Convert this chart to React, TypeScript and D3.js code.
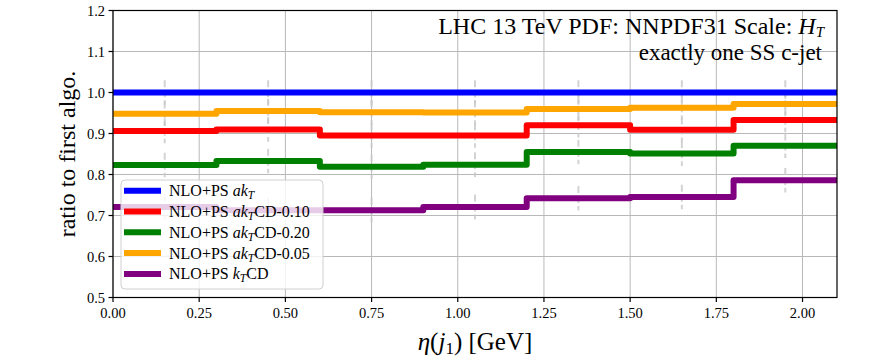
import React from 'react';
import * as d3 from 'd3';

// bins in eta(j1)
const binEdges = [0, 0.3, 0.6, 0.9, 1.2, 1.5, 1.8, 2.1];
const binCenters = [0.15, 0.45, 0.75, 1.05, 1.35, 1.65, 1.95];

// ratio values per bin
const akT = [1.0, 1.0, 1.0, 1.0, 1.0, 1.0, 1.0];
const akTCD010 = [0.906, 0.91, 0.895, 0.895, 0.92, 0.909, 0.933];
const akTCD020 = [0.823, 0.833, 0.819, 0.824, 0.855, 0.851, 0.87];
const akTCD005 = [0.948, 0.955, 0.952, 0.951, 0.96, 0.963, 0.972];
const kTCD = [0.721, 0.713, 0.713, 0.721, 0.742, 0.745, 0.786];

// half-width of the error bars
const errAkT = [0.03, 0.03, 0.03, 0.03, 0.03, 0.03, 0.03];
const errAkTCD010 = [0.03, 0.03, 0.03, 0.03, 0.03, 0.03, 0.03];
const errAkTCD020 = [0.03, 0.03, 0.03, 0.03, 0.03, 0.03, 0.03];
const errAkTCD005 = [0.03, 0.03, 0.03, 0.03, 0.03, 0.03, 0.03];
const errKTCD = [0.03, 0.03, 0.03, 0.03, 0.03, 0.03, 0.03];

const xTicks = [0, 0.25, 0.5, 0.75, 1.0, 1.25, 1.5, 1.75, 2.0];
const yTicks = [0.5, 0.6, 0.7, 0.8, 0.9, 1.0, 1.1, 1.2];

const series = [
  { name: 'akT', cd: '', values: akT, err: errAkT, color: '#0000ff' },
  { name: 'akTCD010', cd: 'CD-0.10', values: akTCD010, err: errAkTCD010, color: '#ff0000' },
  { name: 'akTCD020', cd: 'CD-0.20', values: akTCD020, err: errAkTCD020, color: '#008000' },
  { name: 'akTCD005', cd: 'CD-0.05', values: akTCD005, err: errAkTCD005, color: '#ffa500' },
  { name: 'kTCD', cd: 'CD', values: kTCD, err: errKTCD, color: '#800080' },
];

const W = 872;
const H = 363;
const m = { left: 113, right: 837, top: 10.5, bottom: 297.5 };
const FONT = '"Liberation Serif", "DejaVu Serif", serif';

export default function App() {
  const x = d3.scaleLinear().domain([0, 2.1]).range([m.left, m.right]);
  const y = d3.scaleLinear().domain([0.5, 1.2]).range([m.bottom, m.top]);

  const line = d3
    .line<[number, number]>()
    .x((d) => x(d[0]))
    .y((d) => y(d[1]))
    .curve(d3.curveStepAfter);

  const stepPoints = (vals: number[]): [number, number][] => {
    const pts: [number, number][] = vals.map((v, i) => [binEdges[i], v]);
    pts.push([binEdges[binEdges.length - 1], vals[vals.length - 1]]);
    return pts;
  };

  const legendX = 121;
  const legendY = 180;
  const rowH = 20.8;

  return (
    <svg
      width={W}
      height={H}
      style={{ position: 'absolute', left: 0, top: 0, background: '#fff' }}
      fontFamily={FONT}
    >
      <defs>
        <clipPath id="plotClip">
          <rect x={m.left} y={m.top} width={m.right - m.left} height={m.bottom - m.top} />
        </clipPath>
      </defs>

      {/* grid */}
      <g stroke="#b8b8b8" strokeWidth={1}>
        {xTicks.map((t) => (
          <line key={'gx' + t} x1={x(t)} x2={x(t)} y1={m.top} y2={m.bottom} />
        ))}
        {yTicks.map((t) => (
          <line key={'gy' + t} x1={m.left} x2={m.right} y1={y(t)} y2={y(t)} />
        ))}
      </g>

      <g clipPath="url(#plotClip)">
        {/* error bars */}
        {series.map((s) =>
          s.values.map((v, i) => (
            <line
              key={s.name + 'e' + i}
              x1={x(binCenters[i])}
              x2={x(binCenters[i])}
              y1={y(v + s.err[i])}
              y2={y(v - s.err[i])}
              stroke="#c8c8c8"
              strokeOpacity={0.8}
              strokeWidth={2}
              strokeDasharray="7,3"
            />
          ))
        )}
        {/* step lines */}
        {series.map((s) => (
          <path
            key={s.name}
            d={line(stepPoints(s.values)) || ''}
            fill="none"
            stroke={s.color}
            strokeWidth={6}
            strokeLinejoin="round"
          />
        ))}
      </g>

      {/* frame */}
      <rect
        x={m.left}
        y={m.top}
        width={m.right - m.left}
        height={m.bottom - m.top}
        fill="none"
        stroke="#000"
        strokeWidth={1.2}
      />

      {/* x ticks */}
      <g fontSize={14.5} textAnchor="middle" fill="#000">
        {xTicks.map((t) => (
          <g key={'xt' + t}>
            <line x1={x(t)} x2={x(t)} y1={m.bottom} y2={m.bottom + 4.5} stroke="#000" strokeWidth={1.2} />
            <text x={x(t)} y={m.bottom + 20}>
              {t.toFixed(2)}
            </text>
          </g>
        ))}
      </g>

      {/* y ticks */}
      <g fontSize={14.5} textAnchor="end" fill="#000">
        {yTicks.map((t) => (
          <g key={'yt' + t}>
            <line x1={m.left - 4.5} x2={m.left} y1={y(t)} y2={y(t)} stroke="#000" strokeWidth={1.2} />
            <text x={m.left - 8} y={y(t) + 5}>
              {t.toFixed(1)}
            </text>
          </g>
        ))}
      </g>

      {/* axis labels */}
      <text
        transform={`translate(${75},${(m.top + m.bottom) / 2}) rotate(-90)`}
        textAnchor="middle"
        fontSize={24}
      >
        ratio to first algo.
      </text>
      <text x={(m.left + m.right) / 2} y={350} textAnchor="middle" fontSize={25}>
        <tspan fontStyle="italic">η</tspan>(<tspan fontStyle="italic">j</tspan>
        <tspan fontSize={17} dy={4}>1</tspan>
        <tspan dy={-4}>) [GeV]</tspan>
      </text>

      {/* annotation */}
      <text x={824} y={34} textAnchor="end" fontSize={24}>
        LHC 13 TeV PDF: NNPDF31 Scale: <tspan fontStyle="italic">H</tspan>
        <tspan fontStyle="italic" fontSize={15} dy={2.5}>T</tspan>
      </text>
      <text x={822} y={60} textAnchor="end" fontSize={23}>
        exactly one SS c-jet
      </text>

      {/* legend */}
      <rect
        x={legendX}
        y={legendY}
        width={202}
        height={109}
        rx={4}
        fill="#fff"
        fillOpacity={0.8}
        stroke="#d0d0d0"
        strokeWidth={1}
      />
      {series.map((s, i) => {
        const ry = legendY + 10.7 + i * rowH;
        return (
          <g key={'lg' + s.name}>
            <line x1={124} x2={161} y1={ry} y2={ry} stroke={s.color} strokeWidth={6} />
            <text x={169} y={ry + 5.5} fontSize={16}>
              NLO+PS{' '}
              <tspan fontStyle="italic">{s.name === 'kTCD' ? 'k' : 'ak'}</tspan>
              <tspan fontStyle="italic" fontSize={11.5} dy={3}>T</tspan>
              <tspan dy={-3}>{s.cd}</tspan>
            </text>
          </g>
        );
      })}
    </svg>
  );
}
